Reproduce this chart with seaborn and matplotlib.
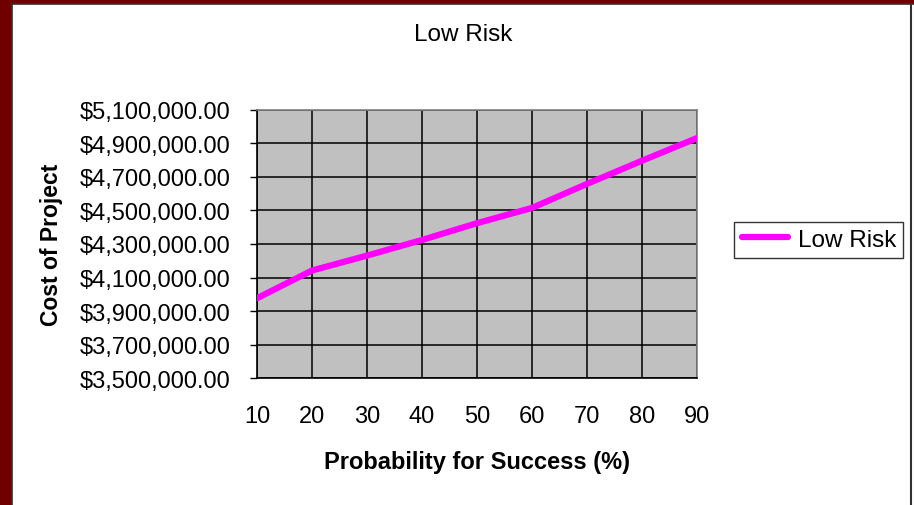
# Libraries
import pandas as pd
import seaborn as sns
import matplotlib.pyplot as plt
from matplotlib.patches import Rectangle
from matplotlib.lines import Line2D
from matplotlib.ticker import FuncFormatter, MultipleLocator

# Data
probability = [10, 20, 30, 40, 50, 60, 70, 80, 90]
cost = [3977000, 4142000, 4231000, 4324000, 4424000, 4515000, 4658000, 4796000, 4931000]
y_ticks = [3500000, 3700000, 3900000, 4100000, 4300000, 4500000, 4700000, 4900000, 5100000]

df = pd.DataFrame({'Probability': probability, 'Cost': cost, 'Series': 'Low Risk'})

sns.set_style('white')
plt.rcParams['font.family'] = ['Liberation Sans', 'DejaVu Sans']
plt.rcParams['text.color'] = 'black'
plt.rcParams['axes.labelcolor'] = 'black'
plt.rcParams['xtick.color'] = 'black'
plt.rcParams['ytick.color'] = 'black'

fig = plt.figure(figsize=(9.14, 5.06), dpi=100, facecolor='#700000')
# white slide panel
fig.patches.append(Rectangle((12 / 914, -0.01), 1.0, 1.01 - 4.5 / 506, transform=fig.transFigure,
                             facecolor='white', edgecolor='#303030', linewidth=1.2, zorder=-5))
fig.add_artist(Line2D([910.5 / 914, 910.5 / 914], [0, 1 - 4.5 / 506], transform=fig.transFigure,
                      color='#303030', linewidth=1.5, zorder=-4))

ax = fig.add_axes([257 / 914, 126.7 / 506, 440 / 914, 268.6 / 506])
ax.set_facecolor('#C0C0C0')

# Plot
sns.lineplot(data=df, x='Probability', y='Cost', hue='Series', palette=['#FF00FF'],
             linewidth=4.5, ax=ax, zorder=3)

ax.set_xlim(10, 90)
ax.set_ylim(3500000, 5100000)
ax.set_xticks(probability)
ax.set_yticks(y_ticks)
ax.xaxis.set_minor_locator(MultipleLocator(5))
ax.yaxis.set_major_formatter(FuncFormatter(lambda v, p: '${:,.2f}'.format(v)))
ax.grid(True, which='major', color='black', linewidth=1.1)

ax.tick_params(axis='x', which='major', length=0, pad=19, labelsize=17)
ax.tick_params(axis='x', which='minor', direction='in', length=4, width=1, color='black')
ax.tick_params(axis='y', which='major', direction='out', length=5, width=1, color='black',
               pad=14, labelsize=17, left=True)

for side in ['top', 'right']:
    ax.spines[side].set_color('#808080')
    ax.spines[side].set_linewidth(1.2)
for side in ['left', 'bottom']:
    ax.spines[side].set_color('black')
    ax.spines[side].set_linewidth(1.2)

ax.set_xlabel('Probability for Success (%)', fontsize=17, fontweight='bold', labelpad=17)
ax.set_ylabel('Cost of Project', fontsize=16.5, fontweight='bold', labelpad=12)

fig.text(463 / 914, 1 - 35 / 506, 'Low Risk', fontsize=17.5, ha='center', va='center')

leg = ax.legend(loc='center left', bbox_to_anchor=(1.085, 0.515), fontsize=17.5, frameon=True,
                fancybox=False, handlelength=1.9, borderpad=0.3, handletextpad=0.4,
                borderaxespad=0)
leg.get_frame().set_edgecolor('black')
leg.get_frame().set_linewidth(1.0)

plt.savefig('out.png', dpi=100, facecolor=fig.get_facecolor())
